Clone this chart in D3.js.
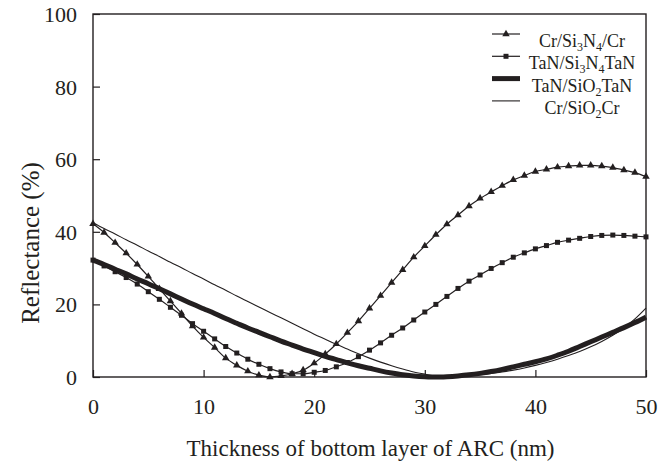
<!DOCTYPE html>
<html>
<head>
<meta charset="utf-8">
<script src="https://cdn.jsdelivr.net/npm/d3@7"></script>
<style>
    body { margin: 0; background: #fff; }
    text { font-family: "Liberation Serif", "Times New Roman", serif; fill: #231f20; }
</style>
</head>
<body>
<div id="chart"></div>
<script>
const thickness = d3.range(0, 51);

const crSi3N4Cr = [42.2, 39.8, 37.0, 34.1, 31.0, 27.7, 24.3, 20.9, 17.5, 14.0,
    10.9, 8.1, 5.2, 3.2, 1.6, 0.5, 0.0, 0.3, 0.9, 1.9,
    3.8, 6.3, 9.1, 12.2, 15.4, 18.9, 22.4, 26.0, 29.5, 33.0,
    36.1, 39.2, 42.1, 44.6, 47.1, 49.2, 51.0, 52.7, 54.3, 55.5,
    56.6, 57.2, 57.8, 58.1, 58.3, 58.3, 58.1, 57.7, 57.0, 56.3, 55.2];

const tanSi3N4TaN = [32.2, 30.6, 29.0, 27.4, 25.6, 23.5, 21.4, 19.2, 17.0, 14.7,
    12.6, 10.5, 8.4, 6.6, 4.9, 3.5, 2.3, 1.4, 0.9, 0.9,
    1.3, 1.8, 2.8, 4.0, 5.6, 7.4, 9.4, 11.5, 13.5, 15.7,
    17.9, 20.0, 22.2, 24.4, 26.4, 28.1, 29.9, 31.5, 33.0, 34.2,
    35.3, 36.2, 37.1, 37.7, 38.2, 38.7, 39.0, 39.1, 39.0, 38.8, 38.6];

const tanSiO2TaN = [32.2, 31.0, 29.7, 28.4, 27.0, 25.7, 24.3, 22.9, 21.5, 20.1,
    18.8, 17.5, 16.1, 14.8, 13.5, 12.3, 11.1, 9.9, 8.8, 7.7,
    6.7, 5.7, 4.8, 3.9, 3.1, 2.4, 1.7, 1.1, 0.6, 0.3,
    0.1, 0.0, 0.1, 0.3, 0.6, 1.0, 1.5, 2.1, 2.8, 3.5,
    4.2, 5.0, 6.0, 7.1, 8.4, 9.7, 11.0, 12.3, 13.6, 15.0, 16.5];

const crSiO2Cr = [42.5, 40.9, 39.4, 37.8, 36.3, 34.7, 33.2, 31.6, 30.1, 28.5,
    27.0, 25.4, 23.9, 22.3, 20.8, 19.3, 17.8, 16.3, 14.8, 13.3,
    11.8, 10.4, 9.0, 7.7, 6.4, 5.2, 4.1, 3.1, 2.2, 1.4,
    0.8, 0.3, 0.1, 0.1, 0.3, 0.6, 1.0, 1.4, 1.9, 2.5,
    3.2, 4.0, 4.9, 5.9, 7.0, 8.3, 9.8, 11.5, 13.5, 16.0, 19.0];

const xTicks = [0, 10, 20, 30, 40, 50];
const yTicks = [0, 20, 40, 60, 80, 100];

// legend label parts: [text, subscript]
const legendLabels = [
    [['Cr/Si', ''], ['3', 'sub'], ['N', ''], ['4', 'sub'], ['/Cr', '']],
    [['TaN/Si', ''], ['3', 'sub'], ['N', ''], ['4', 'sub'], ['TaN', '']],
    [['TaN/SiO', ''], ['2', 'sub'], ['TaN', '']],
    [['Cr/SiO', ''], ['2', 'sub'], ['Cr', '']]
];

window.addEventListener('load', () => buildGraph());

function buildGraph() {
    const svgWidth = 672;
    const svgHeight = 461;
    const left = 93, right = 646, top = 14, bottom = 377;
    const ink = '#231f20';
    const serif = '"Liberation Serif", "Times New Roman", serif';

    const svg = d3.select('#chart')
    .append('svg')
    .attr('width', svgWidth)
    .attr('height', svgHeight);

    const xScale = d3.scaleLinear().domain([0, 50]).range([left, right]);
    const yScale = d3.scaleLinear().domain([0, 100]).range([bottom, top]);

    // frame
    svg.append('rect')
    .attr('x', left)
    .attr('y', top)
    .attr('width', right - left)
    .attr('height', bottom - top)
    .attr('fill', 'none')
    .attr('stroke', ink)
    .attr('stroke-width', 1.4);

    const xAxis = d3.axisBottom(xScale).tickValues(xTicks).tickSizeInner(-7).tickSizeOuter(0).tickPadding(22);
    const yAxis = d3.axisLeft(yScale).tickValues(yTicks).tickSizeInner(-7).tickSizeOuter(0).tickPadding(22);

    const gx = svg.append('g')
    .attr('transform', `translate(0, ${bottom})`)
    .call(xAxis);
    const gy = svg.append('g')
    .attr('transform', `translate(${left}, 0)`)
    .call(yAxis);

    [gx, gy].forEach(g => {
        g.attr('font-family', serif).attr('font-size', 22);
        g.select('.domain').remove();
        g.selectAll('line').attr('stroke', ink).attr('stroke-width', 1.2);
        g.selectAll('text').attr('fill', ink);
    });
    gx.selectAll('.tick text').attr('dy', '0.7em');
    gy.selectAll('.tick text').attr('x', -16).attr('dy', '0.34em');

    // axis titles
    svg.append('text')
    .attr('x', (left + right) / 2 + 1)
    .attr('y', 456)
    .attr('text-anchor', 'middle')
    .style('font-size', '23px')
    .text('Thickness of bottom layer of ARC (nm)');

    svg.append('text')
    .attr('transform', 'translate(39, 243) rotate(-90)')
    .attr('text-anchor', 'middle')
    .style('font-size', '25px')
    .text('Reflectance (%)');

    const line = d3.line()
    .x((d, i) => xScale(thickness[i]))
    .y(d => yScale(d))
    .curve(d3.curveMonotoneX);

    const series = [
        { name: 'tri', values: crSi3N4Cr, width: 1.2, marker: 'triangle' },
        { name: 'sq', values: tanSi3N4TaN, width: 1.2, marker: 'square' },
        { name: 'thick', values: tanSiO2TaN, width: 5, marker: null },
        { name: 'thin', values: crSiO2Cr, width: 1.1, marker: null }
    ];

    const symTri = d3.symbol().type(d3.symbolTriangle).size(24);
    const symSq = d3.symbol().type(d3.symbolSquare).size(25);
    const markerPath = m => (m === 'triangle' ? symTri : symSq)();

    series.forEach(s => {
        svg.append('path')
        .datum(s.values)
        .attr('d', line)
        .attr('fill', 'none')
        .attr('stroke', ink)
        .attr('stroke-width', s.width);

        if (s.marker) {
            svg.append('g')
            .selectAll('path')
            .data(s.values)
            .enter()
            .append('path')
            .attr('transform', (d, i) => `translate(${xScale(thickness[i])}, ${yScale(d)})`)
            .attr('d', markerPath(s.marker))
            .attr('fill', ink);
        }
    });

    // legend
    const legend = svg.append('g').attr('id', 'legend');
    const rows = legend.selectAll('g')
    .data(series)
    .enter()
    .append('g')
    .attr('transform', (d, i) => `translate(0, ${34 + i * 22.3})`);

    rows.append('line')
    .attr('x1', 492)
    .attr('x2', 520)
    .attr('stroke', ink)
    .attr('stroke-width', d => d.width);

    rows.filter(d => d.marker)
    .append('path')
    .attr('transform', 'translate(506, 0)')
    .attr('d', d => markerPath(d.marker))
    .attr('fill', ink);

    const labels = rows.append('text')
    .attr('x', 582)
    .attr('y', 13)
    .attr('text-anchor', 'middle')
    .style('font-size', '18px');

    labels.each(function(d, i) {
        const t = d3.select(this);
        let shifted = false;
        legendLabels[i].forEach(part => {
            const span = t.append('tspan').text(part[0]);
            if (part[1] === 'sub') {
                span.attr('dy', 4).style('font-size', '12px');
                shifted = true;
            } else if (shifted) {
                span.attr('dy', -4);
                shifted = false;
            }
        });
    });
}
</script>
</body>
</html>
